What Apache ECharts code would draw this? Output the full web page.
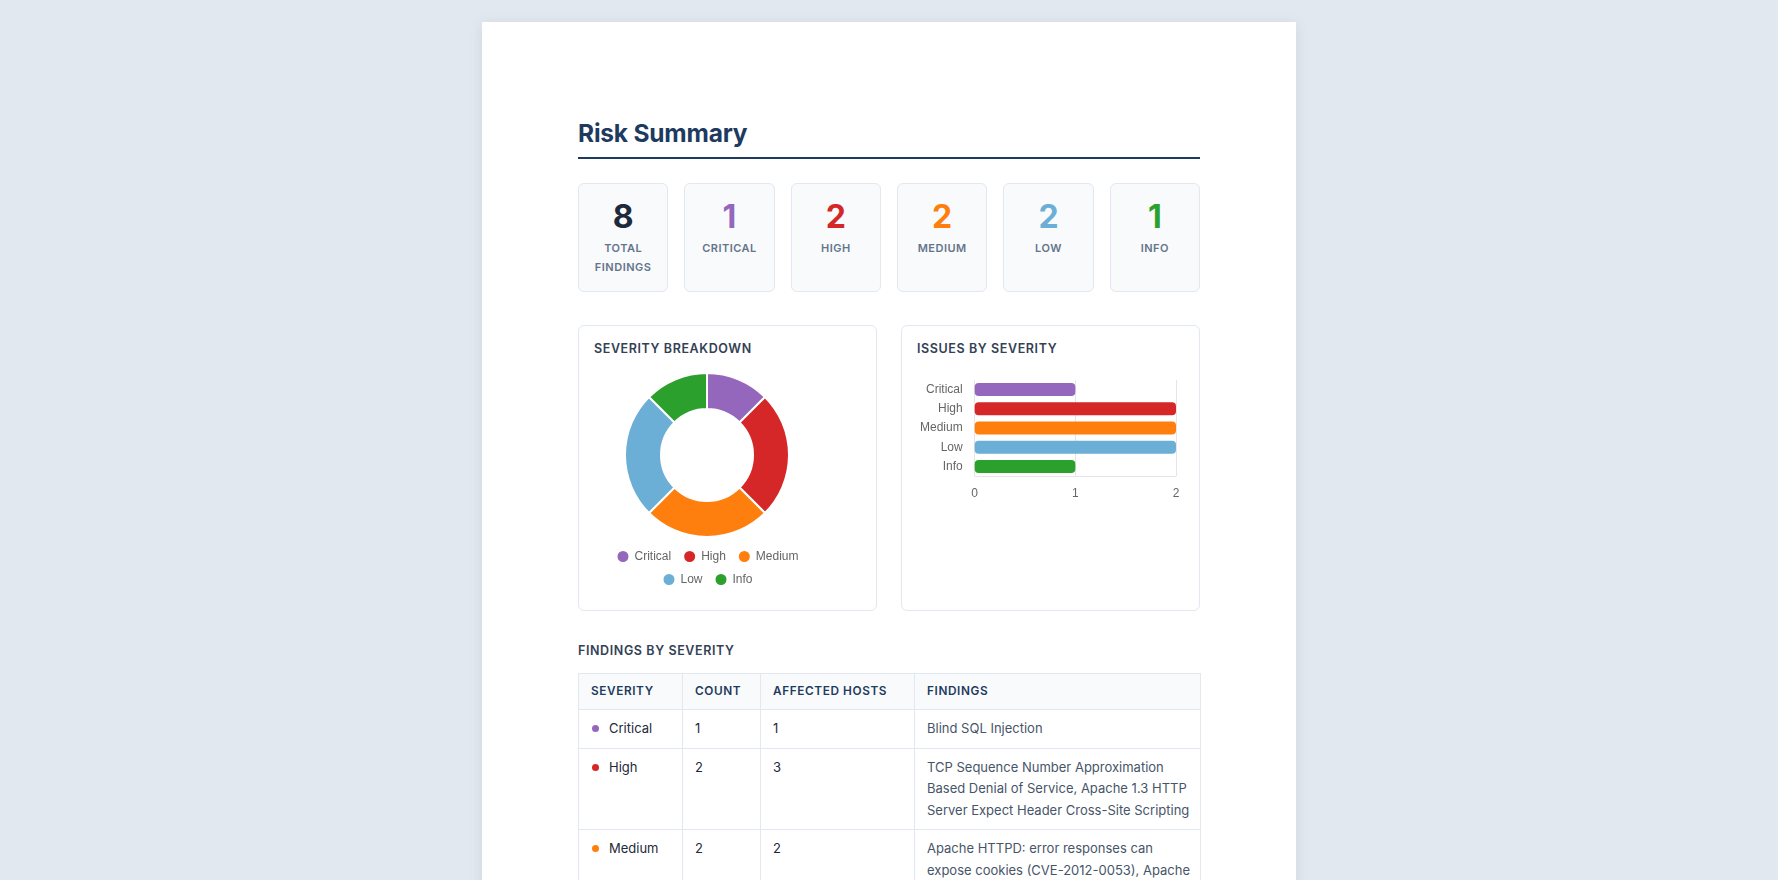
<!DOCTYPE html>
<html>
<head>
<meta charset="utf-8">
<script src="https://cdn.jsdelivr.net/npm/echarts@6/dist/echarts.min.js"></script>
<style>
  html, body { margin: 0; padding: 0; overflow: hidden; }
  body { background: #e2e8f0; font-family: Inter, "Noto Sans", sans-serif; width: 1778px; height: 880px; }
  .page {
    position: absolute; left: 482px; top: 22px; width: 814px; height: 1200px;
    background: #fff; box-shadow: 0 2px 14px rgba(15, 23, 42, 0.08);
  }
  .title {
    position: absolute; left: 96px; top: 95px; width: 622px;
    font-size: 24.5px; line-height: 32px; font-weight: 700; color: #1e3a5f;
    letter-spacing: -0.2px;
  }
  .rule { position: absolute; left: 96px; top: 135px; width: 622px; height: 2px; background: #1e3a5f; }
  .stats { position: absolute; left: 96px; top: 161px; width: 622px; display: flex; gap: 16px; }
  .stat {
    flex: 1 1 0; min-width: 0; height: 109px; box-sizing: border-box; background: #f8fafc;
    border: 1px solid #e2e8f0; border-radius: 6px; text-align: center; padding: 15px 8px 0;
  }
  .stat .num { font-size: 32px; line-height: 36px; font-weight: 700; }
  .stat .lbl {
    margin-top: 4px; font-size: 11px; line-height: 19px; font-weight: 600;
    color: #64748b; letter-spacing: 0.5px; text-transform: uppercase; padding: 0 6px;
  }
  .panel {
    position: absolute; top: 303px; width: 299px; height: 286px; box-sizing: border-box;
    border: 1px solid #e2e8f0; border-radius: 6px; background: #fff;
  }
  .panel h3, .section {
    margin: 0; font-size: 12.5px; line-height: 16px; font-weight: 600; color: #334155;
    letter-spacing: 0.6px; text-transform: uppercase;
  }
  .panel h3 { position: absolute; left: 15px; top: 15px; }
  .chart { position: absolute; top: 40px; height: 240px; }
  .section { position: absolute; left: 96px; top: 621px; }
  table {
    position: absolute; left: 96px; top: 651px; width: 622px; border-collapse: collapse;
    table-layout: fixed; font-size: 13px;
  }
  th, td { border: 1px solid #e2e8f0; text-align: left; vertical-align: top; padding: 8px 12px; }
  th:last-child, td:last-child { padding-right: 4px; }
  th {
    background: #f8fafc; font-size: 11.8px; line-height: 19px; font-weight: 600;
    color: #1e3a5f; letter-spacing: 0.6px; text-transform: uppercase;
  }
  td { line-height: 21.5px; color: #1e293b; }
  td.find { color: #475569; }
  .dot { display: inline-block; width: 7px; height: 7px; border-radius: 50%; margin: 0 10px 1px 1px; vertical-align: middle; }
</style>
</head>
<body>
<div class="page">
  <div class="title">Risk Summary</div>
  <div class="rule"></div>
  <div class="stats" id="stats"></div>

  <div class="panel" style="left:96px">
    <h3>Severity Breakdown</h3>
    <div class="chart" id="donut" style="left:15px; width:226px"></div>
  </div>
  <div class="panel" style="left:419px">
    <h3>Issues by Severity</h3>
    <div class="chart" id="bars" style="left:15px; width:268px"></div>
  </div>

  <div class="section">Findings by Severity</div>
  <table>
    <colgroup><col style="width:104px"><col style="width:78px"><col style="width:154px"><col style="width:286px"></colgroup>
    <thead><tr><th>Severity</th><th>Count</th><th>Affected Hosts</th><th>Findings</th></tr></thead>
    <tbody id="rows"></tbody>
  </table>
</div>

<script>
// chart data
const severities = ['Critical', 'High', 'Medium', 'Low', 'Info']
const counts = [1, 2, 2, 2, 1]
const severityColors = ['#9467bd', '#d62728', '#ff7f0e', '#6baed6', '#2ca02c']
const xTicks = [0, 1, 2]

// table rows visible in the report
const tableSeverities = ['Critical', 'High', 'Medium']
const tableCounts = [1, 2, 2]
const tableHosts = [1, 3, 2]
const tableFindings = [
  'Blind SQL Injection',
  'TCP Sequence Number Approximation Based Denial of Service, Apache 1.3 HTTP Server Expect Header Cross-Site Scripting',
  'Apache HTTPD: error responses can expose cookies (CVE-2012-0053), Apache HTTP Server'
]

const chartFont = '"Liberation Sans", Arial, sans-serif'

// stat cards
let total = counts.reduce((a, b) => a + b, 0)
let stats = document.getElementById('stats')
let cards = [{ n: total, label: 'Total Findings', color: '#1e293b' }]
severities.forEach((s, i) => cards.push({ n: counts[i], label: s, color: severityColors[i] }))
stats.innerHTML = cards.map(c =>
  `<div class="stat"><div class="num" style="color:${c.color}">${c.n}</div><div class="lbl">${c.label}</div></div>`
).join('')

// table
document.getElementById('rows').innerHTML = tableSeverities.map((s, i) => {
  let color = severityColors[severities.indexOf(s)]
  return `<tr><td><span class="dot" style="background:${color}"></span>${s}</td>` +
    `<td>${tableCounts[i]}</td><td>${tableHosts[i]}</td><td class="find">${tableFindings[i]}</td></tr>`
}).join('')

// donut
let donut = echarts.init(document.getElementById('donut'))
let legendBase = {
  orient: 'horizontal',
  left: 'center',
  padding: 0,
  icon: 'circle',
  itemWidth: 13,
  itemHeight: 13,
  itemGap: 11,
  textStyle: { fontFamily: chartFont, fontSize: 12, color: '#666' }
}
donut.setOption({
  animation: false,
  legend: [
    Object.assign({ top: 183, data: severities.slice(0, 3) }, legendBase),
    Object.assign({ top: 206, data: severities.slice(3) }, legendBase)
  ],
  series: [{
    type: 'pie',
    radius: [46, 82],
    center: ['50%', 89],
    startAngle: 90,
    label: { show: false },
    labelLine: { show: false },
    itemStyle: { borderColor: '#fff', borderWidth: 2 },
    data: severities.map((s, i) => ({ name: s, value: counts[i], itemStyle: { color: severityColors[i] } }))
  }]
})

// horizontal bars
let bars = echarts.init(document.getElementById('bars'))
bars.setOption({
  animation: false,
  grid: { left: 57, top: 14, right: 9, height: 96 },
  xAxis: {
    type: 'value',
    min: xTicks[0],
    max: xTicks[xTicks.length - 1],
    interval: 1,
    axisLine: { show: true, lineStyle: { color: '#e5e5e5' } },
    axisTick: { show: false },
    splitLine: { show: true, lineStyle: { color: '#e5e5e5' } },
    axisLabel: { fontFamily: chartFont, fontSize: 12, color: '#666', margin: 12 }
  },
  yAxis: {
    type: 'category',
    inverse: true,
    data: severities,
    axisLine: { show: false },
    axisTick: { show: false },
    axisLabel: { fontFamily: chartFont, fontSize: 12, color: '#666', margin: 12 }
  },
  series: [{
    type: 'bar',
    barWidth: 13,
    data: counts.map((v, i) => ({ value: v, itemStyle: { color: severityColors[i], borderRadius: 4 } }))
  }]
})
</script>
</body>
</html>
